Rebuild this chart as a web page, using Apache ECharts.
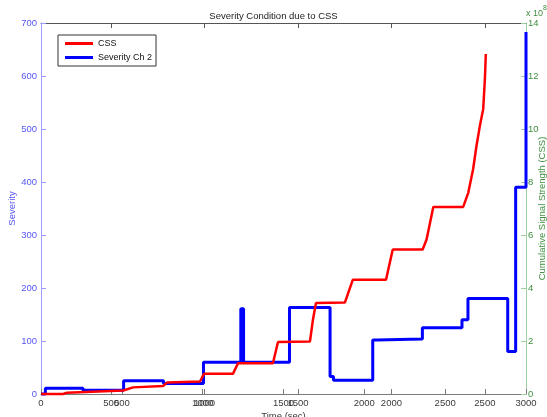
<!DOCTYPE html>
<html>
<head>
<meta charset="utf-8">
<script src="https://cdn.jsdelivr.net/npm/echarts@6/dist/echarts.min.js"></script>
<style>
html,body{margin:0;padding:0;background:#fff;}
#c{width:547px;height:417px;}
</style>
</head>
<body>
<div id="c"></div>
<script>
// Severity Ch 2 (left axis, primary time axis 0..3000 s), step data: value holds from time
var sevTime  = [0, 27, 260, 511, 758, 1005, 1236, 1253, 1537, 1788, 1809, 2052, 2077, 2359, 2604, 2641, 2887, 2936, 3000];
var sevValue = [0, 11, 7, 25, 20, 60, 161, 60, 163, 33, 26, 102, 104, 125, 140, 180, 80, 390, 683];

// CSS (right axis, in units of 1e8; secondary time axis)
var cssTime  = [126, 243, 265, 564, 618, 778, 799, 976, 997, 1152, 1179, 1366, 1393, 1564, 1580, 1596, 1751, 1793, 1971, 2007, 2167, 2188, 2224, 2384, 2411, 2437, 2455, 2473, 2491, 2500, 2505];
var cssValue = [0, 0, 0.05, 0.13, 0.25, 0.30, 0.43, 0.47, 0.76, 0.76, 1.16, 1.16, 1.96, 1.98, 2.80, 3.43, 3.45, 4.31, 4.31, 5.45, 5.45, 5.83, 7.06, 7.06, 7.59, 8.48, 9.36, 10.11, 10.75, 11.88, 12.83];

// Tick labels
var primaryTicks = [0, 500, 1000, 1500, 2000, 2500, 3000];
var secondaryTicks = [500, 1000, 1500, 2000, 2500];
var secondaryRange = [125, 2720];

var FONT = 'Liberation Sans, Arial, sans-serif';
var BLUE_TXT = '#5656f5', BLUE_LINE = '#9a9aff';
var GREEN_TXT = '#3f8f3f', GREEN_LINE = '#9fcf9f';
var GRAY_LINE = '#7a7a7a', GRAY_TXT = '#3a3a3a';

function plain(v) { return String(v); }

var sevData = sevTime.map(function (t, i) { return [t, sevValue[i]]; });
var cssData = cssTime.map(function (t, i) { return [t, cssValue[i]]; });

var chart = echarts.init(document.getElementById('c'), null, {renderer: 'canvas'});
chart.setOption({
  backgroundColor: '#fff',
  animation: false,
  textStyle: {fontFamily: FONT},
  title: {
    text: 'Severity Condition due to CSS',
    left: 'center', top: 6,
    textStyle: {fontSize: 9.5, fontWeight: 'normal', color: '#222', fontFamily: FONT}
  },
  legend: {
    left: 58, top: 35, orient: 'vertical',
    data: ['CSS', 'Severity Ch 2'],
    icon: 'rect', itemWidth: 28, itemHeight: 3, itemGap: 3,
    padding: [3, 4, 3, 7],
    borderColor: '#333', borderWidth: 1, backgroundColor: '#fff',
    textStyle: {fontSize: 9, color: '#111', fontFamily: FONT, lineHeight: 11}
  },
  grid: {left: 41, right: 21, top: 23, bottom: 23, containLabel: false, outerBoundsMode: 'none'},
  xAxis: [
    {
      type: 'value', position: 'bottom', min: 0, max: 3000, interval: 500,
      name: 'Time (sec)', nameLocation: 'middle', nameGap: 17, nameMoveOverlap: false,
      nameTextStyle: {fontSize: 9.5, color: GRAY_TXT, fontFamily: FONT},
      axisLine: {show: true, lineStyle: {color: GRAY_LINE, width: 1}},
      axisTick: {show: true, inside: true, length: 5, lineStyle: {color: GRAY_LINE}},
      axisLabel: {fontSize: 9.5, color: GRAY_TXT, margin: 4, fontFamily: FONT, showMinLabel: true, showMaxLabel: true, formatter: plain},
      splitLine: {show: false}
    },
    {
      type: 'value', position: 'bottom', offset: 0,
      min: secondaryRange[0], max: secondaryRange[1],
      axisLine: {show: false},
      axisTick: {show: true, inside: true, length: 5, customValues: secondaryTicks, lineStyle: {color: GRAY_LINE}},
      axisLabel: {fontSize: 9.5, color: GRAY_TXT, margin: 4, fontFamily: FONT, customValues: secondaryTicks, formatter: plain},
      splitLine: {show: false}
    },
    {
      type: 'value', position: 'top', offset: 0,
      min: secondaryRange[0], max: secondaryRange[1],
      axisLine: {show: true, lineStyle: {color: '#555', width: 1}},
      axisTick: {show: true, inside: true, length: 5, customValues: secondaryTicks, lineStyle: {color: '#555'}},
      axisLabel: {show: false, customValues: secondaryTicks},
      splitLine: {show: false}
    }
  ],
  yAxis: [
    {
      type: 'value', position: 'left', min: 0, max: 700, interval: 100,
      name: 'Severity', nameLocation: 'middle', nameGap: 24, nameRotate: 90, nameMoveOverlap: false,
      nameTextStyle: {fontSize: 9.5, color: BLUE_TXT, fontFamily: FONT},
      axisLine: {show: true, lineStyle: {color: BLUE_LINE, width: 1}},
      axisTick: {show: true, inside: true, length: 5, lineStyle: {color: BLUE_LINE}},
      axisLabel: {fontSize: 9.5, color: BLUE_TXT, margin: 4, fontFamily: FONT, formatter: plain},
      splitLine: {show: false}
    },
    {
      type: 'value', position: 'right', min: 0, max: 14, interval: 2,
      name: 'Cumulative Signal Strength (CSS)', nameLocation: 'middle', nameGap: 11, nameRotate: 90, nameMoveOverlap: false,
      nameTextStyle: {fontSize: 9.5, color: GREEN_TXT, fontFamily: FONT},
      axisLine: {show: true, lineStyle: {color: GREEN_LINE, width: 1}},
      axisTick: {show: true, inside: true, length: 5, lineStyle: {color: GREEN_LINE}},
      axisLabel: {fontSize: 9.5, color: GREEN_TXT, margin: 2, fontFamily: FONT, formatter: plain},
      splitLine: {show: false}
    }
  ],
  graphic: [
    {type: 'text', left: 526, top: 9, style: {text: 'x 10', fontSize: 9, fill: GREEN_TXT, fontFamily: FONT}},
    {type: 'text', left: 543, top: 5, style: {text: '8', fontSize: 7, fill: GREEN_TXT, fontFamily: FONT}}
  ],
  series: [
    {
      name: 'CSS', type: 'line', xAxisIndex: 1, yAxisIndex: 1,
      data: cssData, showSymbol: false, symbol: 'none', clip: false,
      lineStyle: {color: '#ff0000', width: 2.5}, itemStyle: {color: '#ff0000'}, z: 3
    },
    {
      name: 'Severity Ch 2', type: 'line', xAxisIndex: 0, yAxisIndex: 0,
      data: sevData, step: 'end', showSymbol: false, symbol: 'none', clip: false,
      lineStyle: {color: '#0000ff', width: 3}, itemStyle: {color: '#0000ff'}, z: 2
    }
  ]
});
</script>
</body>
</html>
